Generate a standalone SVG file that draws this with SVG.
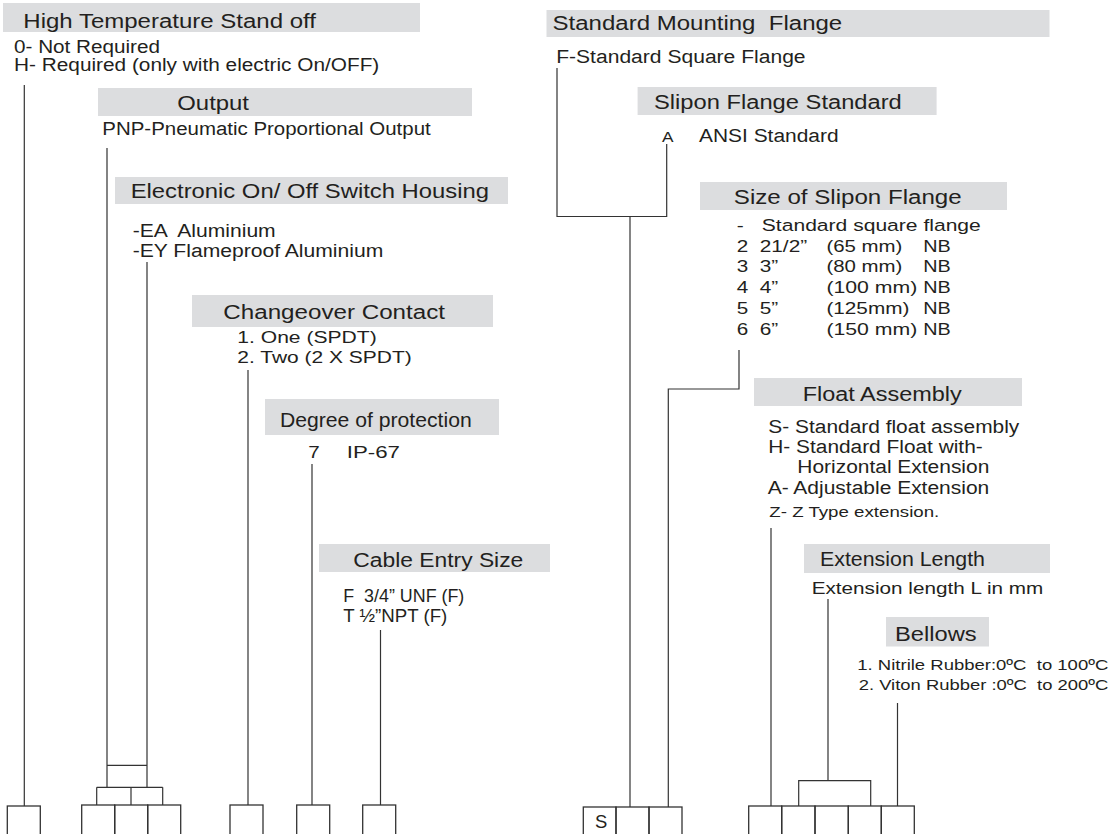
<svg xmlns="http://www.w3.org/2000/svg" width="1115" height="834" viewBox="0 0 1115 834">
<style>
.bar{fill:#dcdddf}
text{font-family:"Liberation Sans",Arial,sans-serif;fill:#231f20;white-space:pre}
.h{font-size:19.5px}
.t{font-size:18px}
.s{font-size:17.2px}
.xs{font-size:15.3px}
.ln{stroke:#333;stroke-width:1.2;fill:none}
.box{fill:none;stroke:#333;stroke-width:1.3}
</style>
<rect width="1115" height="834" fill="#fff"/>

<g id="high-temp">
<rect class="bar" x="3" y="3" width="417" height="29"/>
<text class="h" x="23.3" y="28" textLength="292.7" lengthAdjust="spacingAndGlyphs">High Temperature Stand off</text>
<text class="t" x="14" y="52.5" textLength="146" lengthAdjust="spacingAndGlyphs">0- Not Required</text>
<text class="t" x="14" y="71" textLength="365.3" lengthAdjust="spacingAndGlyphs">H- Required (only with electric On/OFF)</text>
</g>

<g id="output">
<rect class="bar" x="98" y="88" width="374" height="28"/>
<text class="h" x="177.3" y="110" textLength="71.7" lengthAdjust="spacingAndGlyphs">Output</text>
<text class="t" x="102.3" y="135" textLength="328.4" lengthAdjust="spacingAndGlyphs">PNP-Pneumatic Proportional Output</text>
</g>

<g id="housing">
<rect class="bar" x="115" y="177" width="393" height="27"/>
<text class="h" x="130.7" y="198.3" textLength="358.3" lengthAdjust="spacingAndGlyphs">Electronic On/ Off Switch Housing</text>
<text class="t" x="132.7" y="237.3" textLength="143" lengthAdjust="spacingAndGlyphs">-EA  Aluminium</text>
<text class="t" x="132.7" y="256.7" textLength="250.6" lengthAdjust="spacingAndGlyphs">-EY Flameproof Aluminium</text>
</g>

<g id="changeover">
<rect class="bar" x="192" y="295" width="301" height="32"/>
<text class="h" x="223.3" y="319" textLength="221.7" lengthAdjust="spacingAndGlyphs">Changeover Contact</text>
<text class="s" x="237.3" y="343.3" textLength="139.4" lengthAdjust="spacingAndGlyphs">1. One (SPDT)</text>
<text class="s" x="237.3" y="363.3" textLength="174.4" lengthAdjust="spacingAndGlyphs">2. Two (2 X SPDT)</text>
</g>

<g id="protection">
<rect class="bar" x="265" y="399" width="234" height="36"/>
<text class="h" x="280" y="426.7" textLength="191.7" lengthAdjust="spacingAndGlyphs">Degree of protection</text>
<text class="s" x="308.3" y="458.3" textLength="11.5" lengthAdjust="spacingAndGlyphs">7</text>
<text class="s" x="346.7" y="458.3" textLength="53.3" lengthAdjust="spacingAndGlyphs">IP-67</text>
</g>

<g id="cable-entry">
<rect class="bar" x="319" y="544" width="231" height="28"/>
<text class="h" x="353.3" y="566.7" textLength="170" lengthAdjust="spacingAndGlyphs">Cable Entry Size</text>
<text class="t" x="343.3" y="601.7" textLength="121" lengthAdjust="spacingAndGlyphs">F  3/4” UNF (F)</text>
<text class="t" x="343.3" y="621.7" textLength="104" lengthAdjust="spacingAndGlyphs">T ½”NPT (F)</text>
</g>

<g id="mounting-flange">
<rect class="bar" x="546.5" y="10" width="503" height="27"/>
<text class="h" x="552.6" y="30" textLength="289.6" lengthAdjust="spacingAndGlyphs">Standard Mounting  Flange</text>
<text class="t" x="556.2" y="63.3" textLength="249.4" lengthAdjust="spacingAndGlyphs">F-Standard Square Flange</text>
</g>

<g id="slipon-standard">
<rect class="bar" x="637.6" y="87" width="299" height="28"/>
<text class="h" x="654" y="109.3" textLength="247.8" lengthAdjust="spacingAndGlyphs">Slipon Flange Standard</text>
<text class="xs" x="662" y="141.7" textLength="11.5" lengthAdjust="spacingAndGlyphs">A</text>
<text class="t" x="699" y="141.7" textLength="139.6" lengthAdjust="spacingAndGlyphs">ANSI Standard</text>
</g>

<g id="slipon-size">
<rect class="bar" x="700" y="182" width="307" height="28"/>
<text class="h" x="733.8" y="204.3" textLength="227.9" lengthAdjust="spacingAndGlyphs">Size of Slipon Flange</text>
<text class="s" x="736.7" y="230.7" textLength="7" lengthAdjust="spacingAndGlyphs">-</text>
<text class="s" x="761.8" y="230.7" textLength="219" lengthAdjust="spacingAndGlyphs">Standard square flange</text>
<text class="s" x="736.7" y="251.7" textLength="11.5" lengthAdjust="spacingAndGlyphs">2</text>
<text class="s" x="759.7" y="251.7" textLength="47.5" lengthAdjust="spacingAndGlyphs">21/2”</text>
<text class="s" x="826.4" y="251.7" textLength="76" lengthAdjust="spacingAndGlyphs">(65 mm)</text>
<text class="s" x="923.3" y="251.7" textLength="27.5" lengthAdjust="spacingAndGlyphs">NB</text>
<text class="s" x="736.7" y="272.3" textLength="11.5" lengthAdjust="spacingAndGlyphs">3</text>
<text class="s" x="759.7" y="272.3" textLength="18.5" lengthAdjust="spacingAndGlyphs">3”</text>
<text class="s" x="826.4" y="272.3" textLength="76" lengthAdjust="spacingAndGlyphs">(80 mm)</text>
<text class="s" x="923.3" y="272.3" textLength="27.5" lengthAdjust="spacingAndGlyphs">NB</text>
<text class="s" x="736.7" y="293.3" textLength="11.5" lengthAdjust="spacingAndGlyphs">4</text>
<text class="s" x="759.7" y="293.3" textLength="18.5" lengthAdjust="spacingAndGlyphs">4”</text>
<text class="s" x="826.4" y="293.3" textLength="91" lengthAdjust="spacingAndGlyphs">(100 mm)</text>
<text class="s" x="923.3" y="293.3" textLength="27.5" lengthAdjust="spacingAndGlyphs">NB</text>
<text class="s" x="736.7" y="314" textLength="11.5" lengthAdjust="spacingAndGlyphs">5</text>
<text class="s" x="759.7" y="314" textLength="18.5" lengthAdjust="spacingAndGlyphs">5”</text>
<text class="s" x="826.4" y="314" textLength="83" lengthAdjust="spacingAndGlyphs">(125mm)</text>
<text class="s" x="923.3" y="314" textLength="27.5" lengthAdjust="spacingAndGlyphs">NB</text>
<text class="s" x="736.7" y="334.7" textLength="11.5" lengthAdjust="spacingAndGlyphs">6</text>
<text class="s" x="759.7" y="334.7" textLength="18.5" lengthAdjust="spacingAndGlyphs">6”</text>
<text class="s" x="826.4" y="334.7" textLength="91" lengthAdjust="spacingAndGlyphs">(150 mm)</text>
<text class="s" x="923.3" y="334.7" textLength="27.5" lengthAdjust="spacingAndGlyphs">NB</text>
</g>

<g id="float-assembly">
<rect class="bar" x="754" y="378" width="268" height="28"/>
<text class="h" x="802.7" y="400.7" textLength="159" lengthAdjust="spacingAndGlyphs">Float Assembly</text>
<text class="t" x="768.3" y="433.3" textLength="251" lengthAdjust="spacingAndGlyphs">S- Standard float assembly</text>
<text class="t" x="768.3" y="453.3" textLength="214.4" lengthAdjust="spacingAndGlyphs">H- Standard Float with-</text>
<text class="t" x="797.3" y="473.3" textLength="192" lengthAdjust="spacingAndGlyphs">Horizontal Extension</text>
<text class="t" x="767.7" y="494" textLength="221.6" lengthAdjust="spacingAndGlyphs">A- Adjustable Extension</text>
<text class="xs" x="769.3" y="516.7" textLength="170" lengthAdjust="spacingAndGlyphs">Z- Z Type extension.</text>
</g>

<g id="extension-length">
<rect class="bar" x="804" y="544" width="246" height="29"/>
<text class="h" x="820" y="566" textLength="165" lengthAdjust="spacingAndGlyphs">Extension Length</text>
<text class="s" x="811.7" y="594" textLength="231.6" lengthAdjust="spacingAndGlyphs">Extension length L in mm</text>
</g>

<g id="bellows">
<rect class="bar" x="886" y="617" width="103" height="29.5"/>
<text class="h" x="895" y="641" textLength="81.7" lengthAdjust="spacingAndGlyphs">Bellows</text>
<text class="xs" x="857.3" y="670" textLength="251" lengthAdjust="spacingAndGlyphs">1. Nitrile Rubber:0ºC  to 100ºC</text>
<text class="xs" x="858.7" y="690" textLength="249.6" lengthAdjust="spacingAndGlyphs">2. Viton Rubber :0ºC  to 200ºC</text>
</g>

<g id="connectors">
<path class="ln" d="M24.3 85V806"/>
<path class="ln" d="M107 148V787M147 262V787M107 765.3H147"/>
<path class="ln" d="M96.7 787.3H162.7M96.7 787.3V805M131 787.3V805M162.7 787.3V805"/>
<path class="ln" d="M248 370V805"/>
<path class="ln" d="M312 464V805"/>
<path class="ln" d="M380.5 630V805"/>
<path class="ln" d="M557 68V216.5H666.7V144"/>
<path class="ln" d="M630 216.5V807"/>
<path class="ln" d="M739 350V389H668.3V807"/>
<path class="ln" d="M771 528V806"/>
<path class="ln" d="M828 599V780.7M798.7 806V780.7H870.7V806"/>
<path class="ln" d="M897.5 703V806"/>
</g>

<g id="code-boxes-left">
<rect class="box" x="7.3" y="806" width="33" height="40"/>
<rect class="box" x="81.7" y="805" width="33" height="40"/>
<rect class="box" x="114.7" y="805" width="33" height="40"/>
<rect class="box" x="147.7" y="805" width="33" height="40"/>
<rect class="box" x="230" y="805" width="33" height="40"/>
<rect class="box" x="296.7" y="805" width="33" height="40"/>
<rect class="box" x="362.7" y="805" width="33" height="40"/>
</g>

<g id="code-boxes-right">
<rect class="box" x="583.3" y="807" width="32.7" height="40"/>
<rect class="box" x="616" y="807" width="33" height="40"/>
<rect class="box" x="649" y="807" width="33" height="40"/>
<text class="t" x="595" y="828.3" textLength="12.3" lengthAdjust="spacingAndGlyphs">S</text>
<rect class="box" x="748.7" y="806" width="33" height="40"/>
<rect class="box" x="781.7" y="806" width="33.3" height="40"/>
<rect class="box" x="815" y="806" width="33.3" height="40"/>
<rect class="box" x="848.3" y="806" width="33" height="40"/>
<rect class="box" x="881.3" y="806" width="33" height="40"/>
</g>
</svg>
